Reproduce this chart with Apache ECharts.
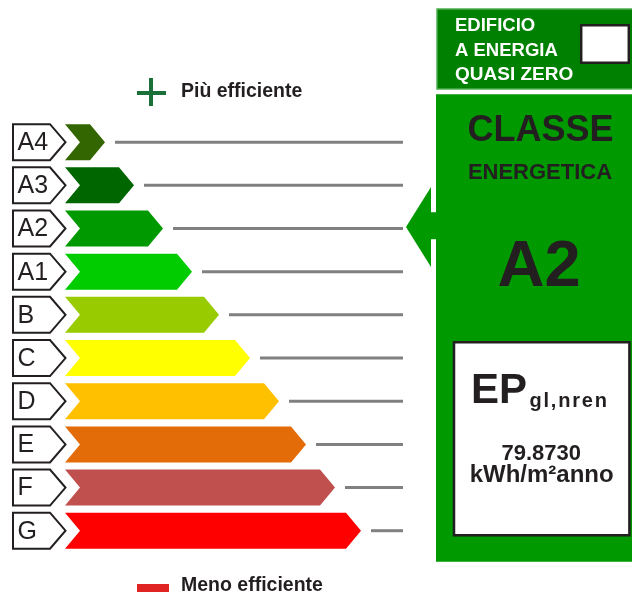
<!DOCTYPE html>
<html>
<head>
<meta charset="utf-8">
<script src="https://cdn.jsdelivr.net/npm/echarts@6/dist/echarts.min.js"></script>
<style>html,body{margin:0;padding:0;background:#fff}#c{width:632px;height:595px}</style>
</head>
<body>
<div id="c"></div>
<script>
// ---- data ----
const classes = ['A4', 'A3', 'A2', 'A1', 'B', 'C', 'D', 'E', 'F', 'G'];
const arrowLengths = [40, 69, 98, 127, 154, 185, 214, 241, 270, 296];
const classColors = ['#336600', '#006600', '#009900', '#00cc00', '#99cc00', '#ffff00', '#ffc000', '#e36c09', '#c0504d', '#ff0000'];
const selectedClass = 'A2';
const epLabel = 'EP';
const epSub = 'gl,nren';
const epValue = '79.8730';
const epUnit = 'kWh/m²anno';
const nzebLines = ['EDIFICIO', 'A ENERGIA', 'QUASI ZERO'];
const panelTitle = ['CLASSE', 'ENERGETICA'];
const legendTop = 'Più efficiente';
const legendBottom = 'Meno efficiente';

// ---- layout ----
const FONT = '"Liberation Sans", Arial, Helvetica, sans-serif';
const DARK = '#231f20';
const PANEL = '#009900';
const lineEndX = 403;
const arrowH = 36;

const chart = echarts.init(document.getElementById('c'), null, { renderer: 'canvas' });

function renderArrow(params, api) {
  const idx = api.value(0);
  const len = api.value(1);
  const start = api.coord([0, idx]);
  const tip = api.coord([len, idx]);
  const x0 = start[0], cy = start[1];
  const tx = tip[0];
  const top = cy - arrowH / 2, bot = cy + arrowH / 2;
  return {
    type: 'group',
    children: [
      { type: 'polygon', shape: { points: [[x0 - 52, top], [x0 - 15, top], [x0 + 0.5, cy], [x0 - 15, bot], [x0 - 52, bot]] },
        style: { fill: '#fff', stroke: DARK, lineWidth: 2 } },
      { type: 'text', x: x0 - 47.5, y: cy + 1, style: { text: classes[idx], font: '25px ' + FONT, fill: DARK, align: 'left', verticalAlign: 'middle' } },
      { type: 'polygon', shape: { points: [[x0, top], [tx - 15, top], [tx, cy], [tx - 15, bot], [x0, bot], [x0 + 15, cy]] },
        style: { fill: classColors[idx] } },
      { type: 'line', shape: { x1: tx + 10, y1: cy, x2: lineEndX, y2: cy }, style: { stroke: '#808080', lineWidth: 3 } }
    ]
  };
}

function renderPointer(params, api) {
  const idx = api.value(0);
  const cy = api.coord([0, idx])[1];
  return {
    type: 'group',
    children: [
      { type: 'polygon', shape: { points: [[406, cy - 1.6], [431, cy - 41.6], [431, cy + 38.4]] }, style: { fill: PANEL } },
      { type: 'rect', shape: { x: 430, y: cy - 16.3, width: 7, height: 27 }, style: { fill: PANEL } }
    ]
  };
}

function txt(x, y, text, font, fill, align) {
  return { type: 'text', x: x, y: y, z: 10, style: { text: text, font: font, fill: fill, align: align || 'left', verticalAlign: 'middle' } };
}

// letter-spaced text (one element per character)
const measureCtx = document.createElement('canvas').getContext('2d');
function spacedTxt(x, y, text, font, fill, spacing) {
  measureCtx.font = font;
  const out = [];
  let cx = x;
  for (const ch of text) {
    out.push(txt(cx, y, ch, font, fill));
    cx += measureCtx.measureText(ch).width + spacing;
  }
  return out;
}

const graphics = [
  // top NZEB box
  { type: 'rect', shape: { x: 437, y: 9, width: 200, height: 80 }, style: { fill: '#008000', stroke: '#4fae4f', lineWidth: 1.5 }, z: 1 },
  { type: 'rect', shape: { x: 581.2, y: 25.2, width: 47.6, height: 37.6 }, style: { fill: '#fff', stroke: DARK, lineWidth: 2.5 }, z: 2 },
  txt(455, 26.3, nzebLines[0], 'bold 18.5px ' + FONT, '#fff'),
  txt(455, 51.3, nzebLines[1], 'bold 18.5px ' + FONT, '#fff'),
  txt(455, 74.7, nzebLines[2], 'bold 19px ' + FONT, '#fff'),
  // main panel
  { type: 'rect', shape: { x: 436, y: 94.3, width: 200, height: 467.4 }, style: { fill: PANEL }, z: 1 },
  txt(540.5, 131, panelTitle[0], 'bold 36px ' + FONT, DARK, 'center'),
  txt(540, 173.4, panelTitle[1], 'bold 22px ' + FONT, DARK, 'center'),
  txt(539, 268.3, selectedClass, 'bold 65px ' + FONT, DARK, 'center'),
  // EP box
  { type: 'rect', shape: { x: 454, y: 342.3, width: 175.4, height: 193 }, style: { fill: '#fff', stroke: DARK, lineWidth: 2.5 }, z: 2 },
  txt(471, 391.7, epLabel, 'bold 42px ' + FONT, DARK),
  ...spacedTxt(529.5, 401, epSub, 'bold 20px ' + FONT, DARK, 1.8),
  txt(541.2, 453.8, epValue, 'bold 22px ' + FONT, DARK, 'center'),
  txt(541.7, 475.4, epUnit, 'bold 24px ' + FONT, DARK, 'center'),
  // legend
  { type: 'rect', shape: { x: 137, y: 91, width: 29, height: 4 }, style: { fill: '#1b6f38' } },
  { type: 'rect', shape: { x: 149, y: 78, width: 4, height: 28 }, style: { fill: '#1b6f38' } },
  txt(181, 91.7, legendTop, 'bold 19.5px ' + FONT, DARK),
  { type: 'rect', shape: { x: 137, y: 584, width: 32, height: 8 }, style: { fill: '#e02424' } },
  txt(181, 586, legendBottom, 'bold 19.5px ' + FONT, DARK)
];

chart.setOption({
  animation: false,
  backgroundColor: '#fff',
  grid: { left: 65, right: 0, top: 120.6, height: 431.7 },
  xAxis: { type: 'value', min: 0, max: 567, show: false },
  yAxis: { type: 'category', data: classes, inverse: true, show: false },
  graphic: graphics,
  series: [
    { type: 'custom', renderItem: renderArrow, data: classes.map((c, i) => [i, arrowLengths[i]]), clip: false, silent: true },
    { type: 'custom', renderItem: renderPointer, data: [[classes.indexOf(selectedClass)]], clip: false, silent: true }
  ]
});
</script>
</body>
</html>
